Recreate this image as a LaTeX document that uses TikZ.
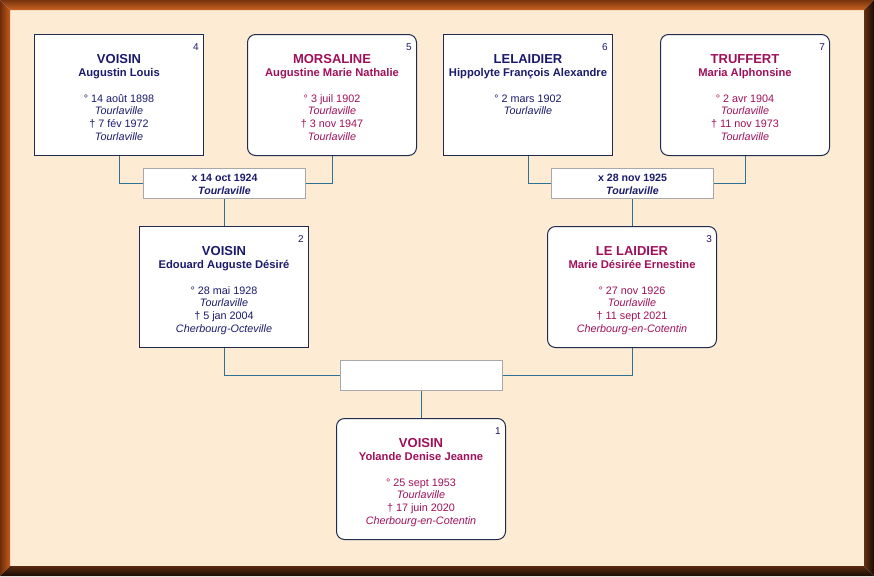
\documentclass[tikz,border=0pt]{standalone}
\usepackage{fontspec}
\setmainfont{Liberation Sans}
\usetikzlibrary{calc}
\definecolor{cream}{HTML}{FDEBD4}
\definecolor{navytxt}{HTML}{1A1A6E}
\definecolor{femtxt}{HTML}{A0105A}
\definecolor{boxline}{HTML}{1E2C50}
\definecolor{connc}{HTML}{2F7095}
\definecolor{mgray}{HTML}{A8A8A8}
\newcommand\fsz[2]{\fontsize{#1}{#2}\selectfont}
\tikzset{
  pbase/.style={draw=boxline, fill=white, line width=1pt, minimum width=169pt, minimum height=121pt, inner sep=0pt, anchor=north west},
  sqbox/.style={pbase},
  rdbox/.style={pbase, rounded corners=8pt},
  mbox/.style={draw=mgray, fill=white, line width=1pt, minimum width=162pt, minimum height=30pt, inner sep=0pt, anchor=north west},
  numtxt/.style={inner sep=0pt, font=\fsz{10}{12}, text=navytxt, anchor=base east},
  surtxt/.style={inner sep=0pt, font=\fsz{13}{15}\bfseries, anchor=base},
  giventxt/.style={inner sep=0pt, font=\fsz{11.2}{13}\bfseries, anchor=base},
  datetxt/.style={inner sep=0pt, font=\fsz{10.8}{12}, anchor=base},
  mtxt/.style={inner sep=0pt, font=\fsz{10.6}{12}\bfseries, text=navytxt, anchor=base},
  conn/.style={draw=connc, line width=0.9pt},
}
% #1 name, #2 left, #3 top, #4 box style, #5 text colour, #6 number, #7 surname, #8 given names, #9 list of lines
\newcommand\person[9]{%
  \node[#4] (#1) at (#2,#3) {};
  \node[numtxt] (#1-num) at ($(#1.north east)+(-5,16)$) {#6};
  \node[surtxt, text=#5] (#1-sur) at ($(#1.north)+(0,29)$) {#7};
  \node[giventxt, text=#5] (#1-giv) at ($(#1.north)+(0,42)$) {#8};
  \foreach \ln [count=\k] in {#9}
    \node[datetxt, text=#5] (#1-l\k) at ($(#1.north)+(0,55.1+12.9*\k)$) {\ln};
}
% #1 name, #2 left, #3 top, #4 line 1, #5 line 2
\newcommand\marr[5]{%
  \node[mbox] (#1) at (#2,#3) {};
  \node[mtxt] (#1-a) at ($(#1.north)+(0,13.5)$) {#4};
  \node[mtxt] (#1-b) at ($(#1.north)+(0,26.5)$) {#5};
}
\begin{document}
\begin{tikzpicture}[x=1pt, y=-1pt]
\useasboundingbox (0,0) rectangle (874,576);
% frame
\fill[cream] (10,10) rectangle (864,566);
\shade[top color={rgb,255:red,120;green,52;blue,12}, bottom color={rgb,255:red,200;green,100;blue,36}] (0,0) -- (874,0) -- (864,10) -- (10,10) -- cycle;
\shade[left color={rgb,255:red,110;green,44;blue,10}, right color={rgb,255:red,196;green,92;blue,28}] (0,0) -- (10,10) -- (10,566) -- (0,576) -- cycle;
\shade[left color={rgb,255:red,100;green,48;blue,18}, right color={rgb,255:red,24;green,10;blue,2}] (874,0) -- (874,576) -- (864,566) -- (864,10) -- cycle;
\shade[top color={rgb,255:red,90;green,42;blue,16}, bottom color={rgb,255:red,24;green,12;blue,4}] (0,576) -- (874,576) -- (864,566) -- (10,566) -- cycle;

% grandparents
\person{p4}{34}{34}{sqbox}{navytxt}{4}{VOISIN}{Augustin Louis}
  {{° 14 août 1898},{\textit{Tourlaville}},{† 7 fév 1972},{\textit{Tourlaville}}}
\person{p5}{247}{34}{rdbox}{femtxt}{5}{MORSALINE}{Augustine Marie Nathalie}
  {{° 3 juil 1902},{\textit{Tourlaville}},{† 3 nov 1947},{\textit{Tourlaville}}}
\person{p6}{443}{34}{sqbox}{navytxt}{6}{LELAIDIER}{Hippolyte François Alexandre}
  {{° 2 mars 1902},{\textit{Tourlaville}}}
\person{p7}{660}{34}{rdbox}{femtxt}{7}{TRUFFERT}{Maria Alphonsine}
  {{° 2 avr 1904},{\textit{Tourlaville}},{† 11 nov 1973},{\textit{Tourlaville}}}

% marriages
\marr{m1}{143}{168}{x 14 oct 1924}{\textit{Tourlaville}}
\marr{m2}{551}{168}{x 28 nov 1925}{\textit{Tourlaville}}

% parents
\person{p2}{139}{226}{sqbox}{navytxt}{2}{VOISIN}{Edouard Auguste Désiré}
  {{° 28 mai 1928},{\textit{Tourlaville}},{† 5 jan 2004},{\textit{Cherbourg-Octeville}}}
\person{p3}{547}{226}{rdbox}{femtxt}{3}{LE LAIDIER}{Marie Désirée Ernestine}
  {{° 27 nov 1926},{\textit{Tourlaville}},{† 11 sept 2021},{\textit{Cherbourg-en-Cotentin}}}

\node[mbox] (m3) at (340,360) {};

% subject
\person{p1}{336}{418}{rdbox}{femtxt}{1}{VOISIN}{Yolande Denise Jeanne}
  {{° 25 sept 1953},{\textit{Tourlaville}},{† 17 juin 2020},{\textit{Cherbourg-en-Cotentin}}}

% connectors
\draw[conn] (p4.south) |- (m1.west);
\draw[conn] (p5.south) |- (m1.east);
\draw[conn] (m1.south) -- (m1.south |- p2.north);
\draw[conn] (p6.south) |- (m2.west);
\draw[conn] (p7.south) |- (m2.east);
\draw[conn] (m2.south) -- (m2.south |- p3.north);
\draw[conn] (p2.south) |- (m3.west);
\draw[conn] (p3.south) |- (m3.east);
\draw[conn] (m3.south) -- (m3.south |- p1.north);
\end{tikzpicture}
\end{document}
